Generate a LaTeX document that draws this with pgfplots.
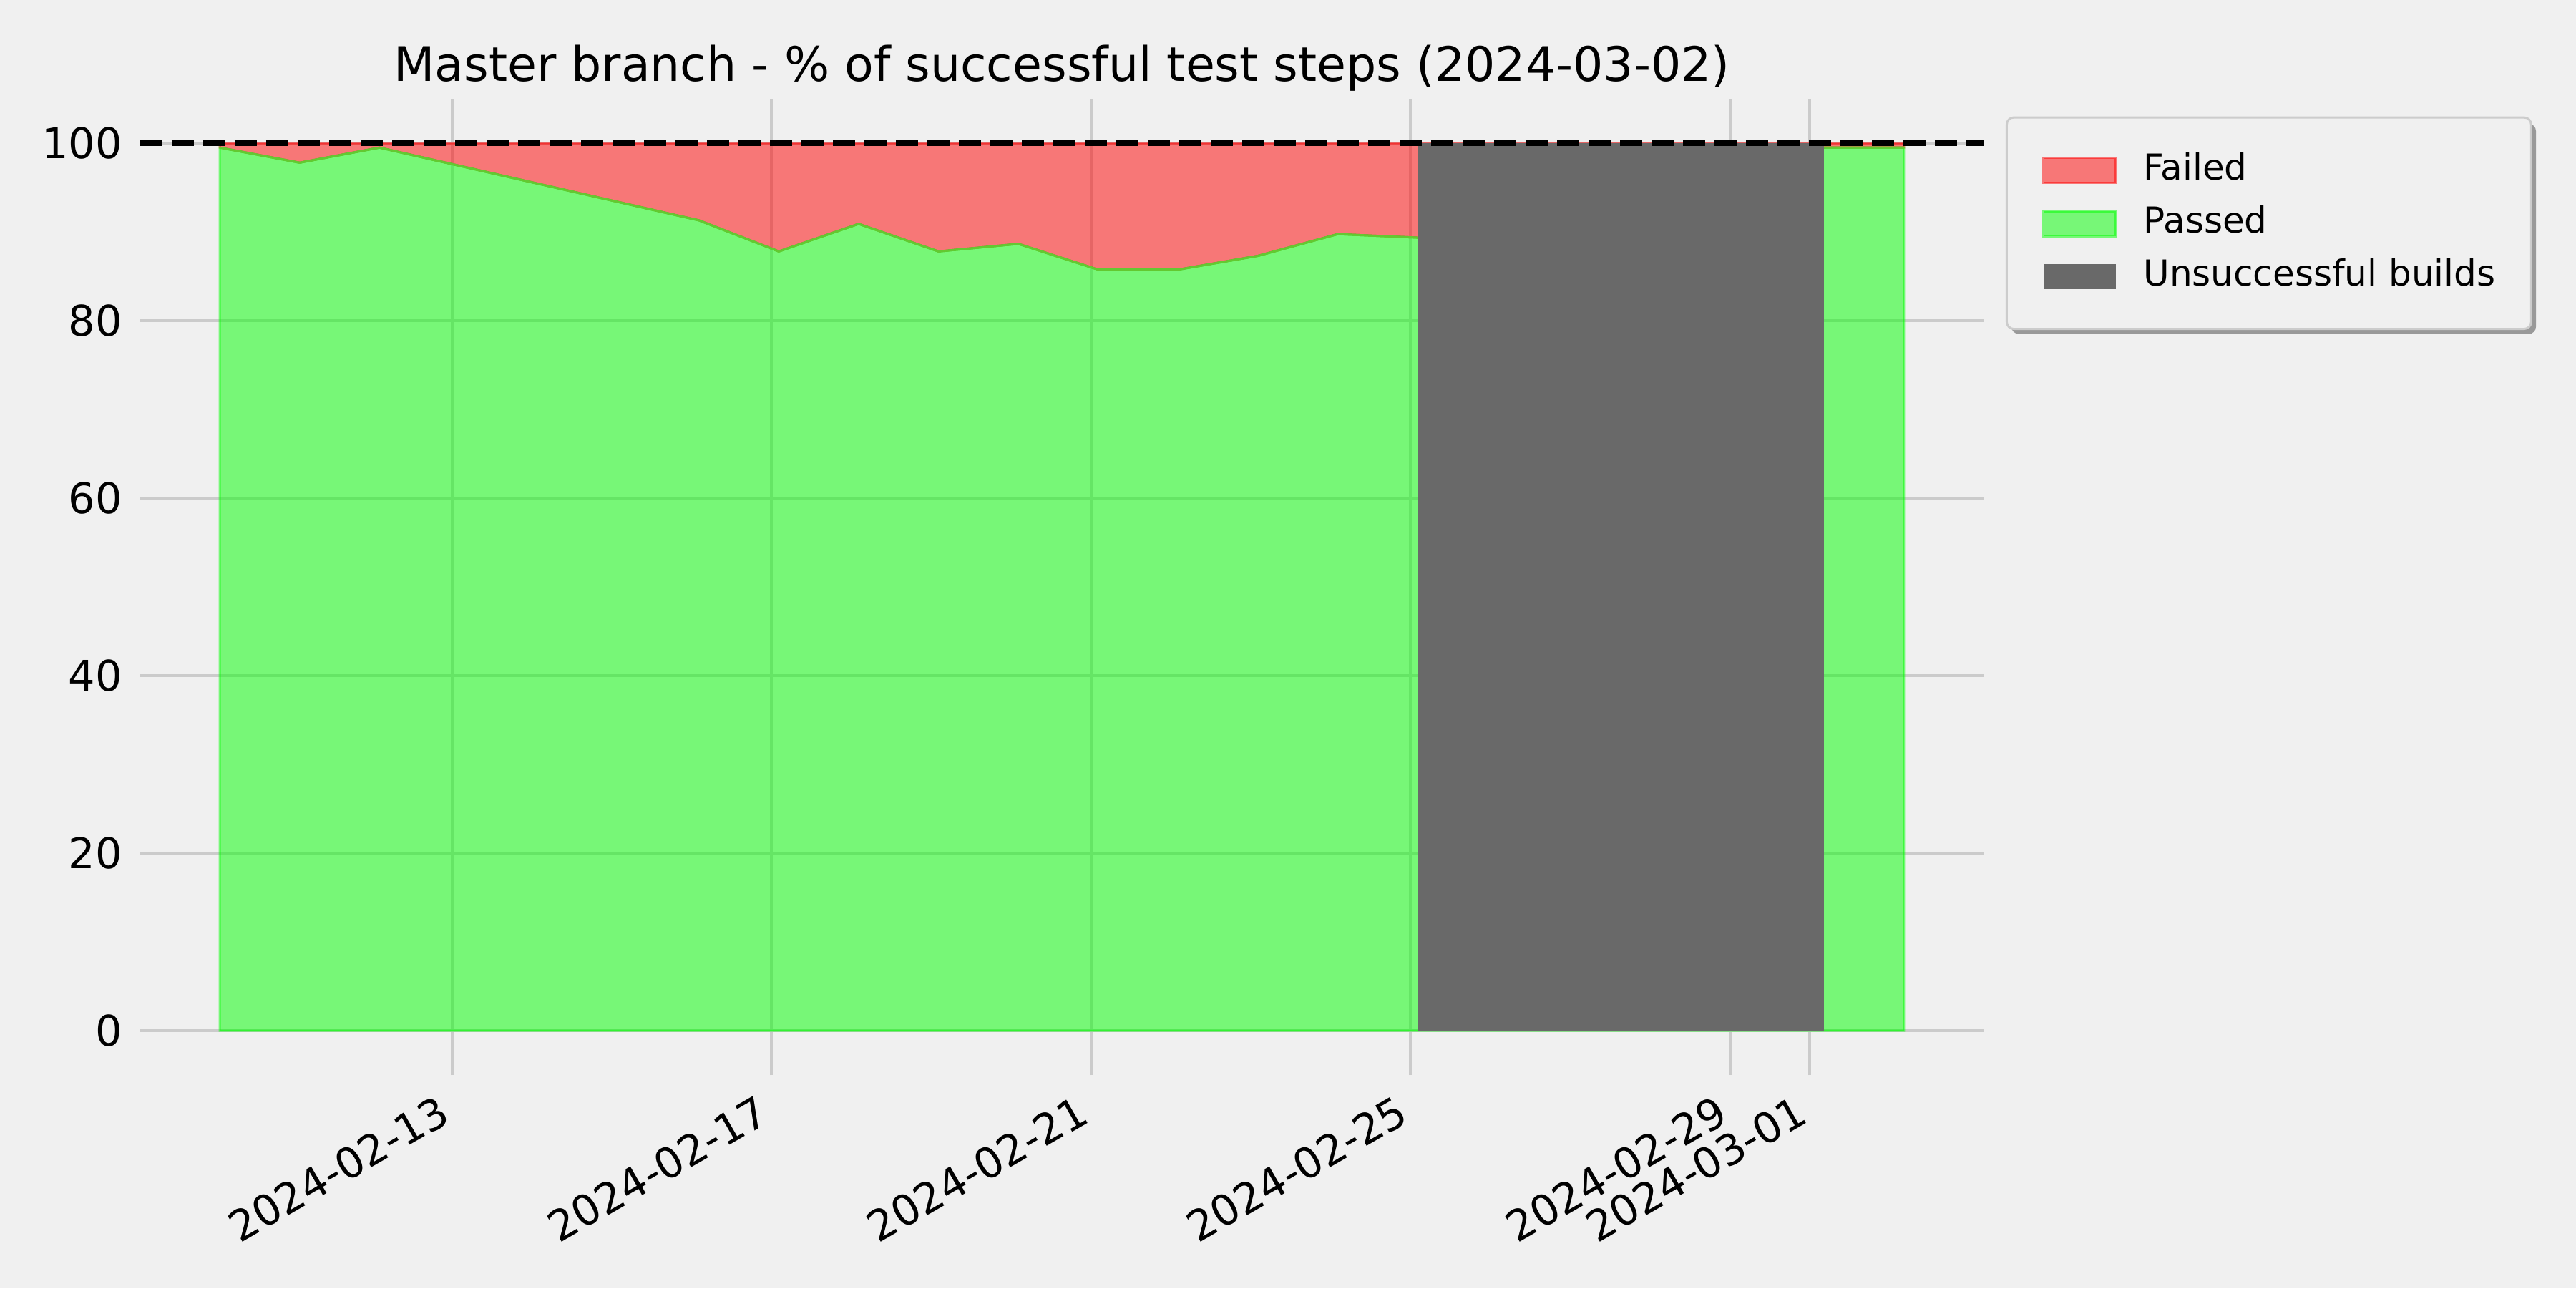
\documentclass[border=0pt]{standalone}
\usepackage{fontspec}
\setmainfont{DejaVu Sans}
\usepackage{pgfplots}
\usepackage{pgfplotstable}
\pgfplotsset{compat=1.18}
\definecolor{bg}{HTML}{F0F0F0}
\definecolor{gridc}{HTML}{CBCBCB}
\definecolor{limec}{HTML}{00FF00}
\definecolor{redc}{HTML}{FF0000}
\definecolor{dimgrayc}{HTML}{696969}
\definecolor{edgegreen}{RGB}{100,200,50}
\definecolor{legedge}{HTML}{CCCCCC}
\definecolor{shadowc}{HTML}{999999}

\pgfplotstableread{
x y
0.09 99.5
1.09 97.8
2.09 99.5
6.09 91.3
7.09 87.8
8.09 90.9
9.09 87.8
10.09 88.65
11.09 85.75
12.09 85.75
13.09 87.3
14.09 89.75
15.09 89.35
20.18 99.5
21.18 99.5
}\passed

\begin{document}
\begin{tikzpicture}
\fill[bg] (-39.2pt,-59.6pt) rectangle (680.8pt,300.4pt);
% legend shadow (legend box sits at the axis' upper right, see legend style)
\fill[shadowc, rounded corners=2pt] (523.0pt,207.1pt) rectangle (669.6pt,265.8pt);
\begin{axis}[
  at={(0pt,0pt)}, anchor=south west,
  scale only axis, width=515.2pt, height=272.8pt,
  xmin=-0.906, xmax=22.176, ymin=-5, ymax=105,
  axis line style={draw=none},
  major tick length=0pt,
  xtick={3,7,11,15,19,20},
  xticklabels={2024-02-13,2024-02-17,2024-02-21,2024-02-25,2024-02-29,2024-03-01},
  ytick={0,20,40,60,80,100},
  grid=major,
  major grid style={gridc, line width=0.8pt},
  tick label style={font=\fontsize{11.8}{14}\selectfont},
  /pgf/number format/assume math mode=true,
  yticklabel style={inner sep=0pt, xshift=-4.8pt},
  xticklabel style={inner sep=0pt, xshift=-4.3pt, yshift=-5pt, rotate=30, anchor=north east},
  title={Master branch - \% of successful test steps (2024-03-02)},
  title style={font=\fontsize{13.3}{16}\selectfont, at={(0.5,1)}, anchor=base, yshift=-1pt, inner sep=0pt},
  legend style={
    at={(1.012,0.982)}, anchor=north west,
    draw=legedge, line width=0.6pt,
    fill=bg, rounded corners=2pt,
    font=\fontsize{10}{12}\selectfont,
    inner xsep=10pt, inner ysep=11pt,
    row sep=7.3pt,
    nodes={inner sep=0pt, text height=6.3pt, text depth=1pt},
    /tikz/every odd column/.append style={column sep=7.4pt},
  },
  legend cell align=left,
]
\addplot[fill=redc, fill opacity=0.5, draw=redc, draw opacity=0.5, line width=0.6pt,
  legend image code/.code={\draw[fill=redc, fill opacity=0.5, draw=redc, draw opacity=0.5, line width=0.6pt, rounded corners=0pt] (0pt,-3.5pt) rectangle (20.2pt,3.5pt);}]
  coordinates {(0.09,99.5) (1.09,97.8) (2.09,99.5) (6.09,91.3) (7.09,87.8) (8.09,90.9) (9.09,87.8)
    (10.09,88.65) (11.09,85.75) (12.09,85.75) (13.09,87.3) (14.09,89.75) (15.09,89.35) (20.18,99.5) (21.18,99.5)
    (21.18,100) (0.09,100)} -- cycle;
\addlegendentry{Failed}
\addplot[fill=limec, fill opacity=0.5, draw=limec, draw opacity=0.5, line width=0.6pt,
  legend image code/.code={\draw[fill=limec, fill opacity=0.5, draw=limec, draw opacity=0.5, line width=0.6pt, rounded corners=0pt] (0pt,-3.5pt) rectangle (20.2pt,3.5pt);}]
  table[x=x,y=y]{\passed} \closedcycle;
\addlegendentry{Passed}
\addplot[edgegreen, line width=0.6pt, forget plot] table[x=x,y=y]{\passed};
\addplot[fill=dimgrayc, draw=none,
  legend image code/.code={\fill[dimgrayc, rounded corners=0pt] (0pt,-3.5pt) rectangle (20.2pt,3.5pt);}]
  coordinates {(15.09,100) (20.18,100)} \closedcycle;
\addlegendentry{Unsuccessful builds}
\addplot[black, line width=1.5pt, dash pattern=on 6.2pt off 2.6pt, forget plot] coordinates {(-0.906,100) (22.176,100)};
\end{axis}
\end{tikzpicture}
\end{document}
